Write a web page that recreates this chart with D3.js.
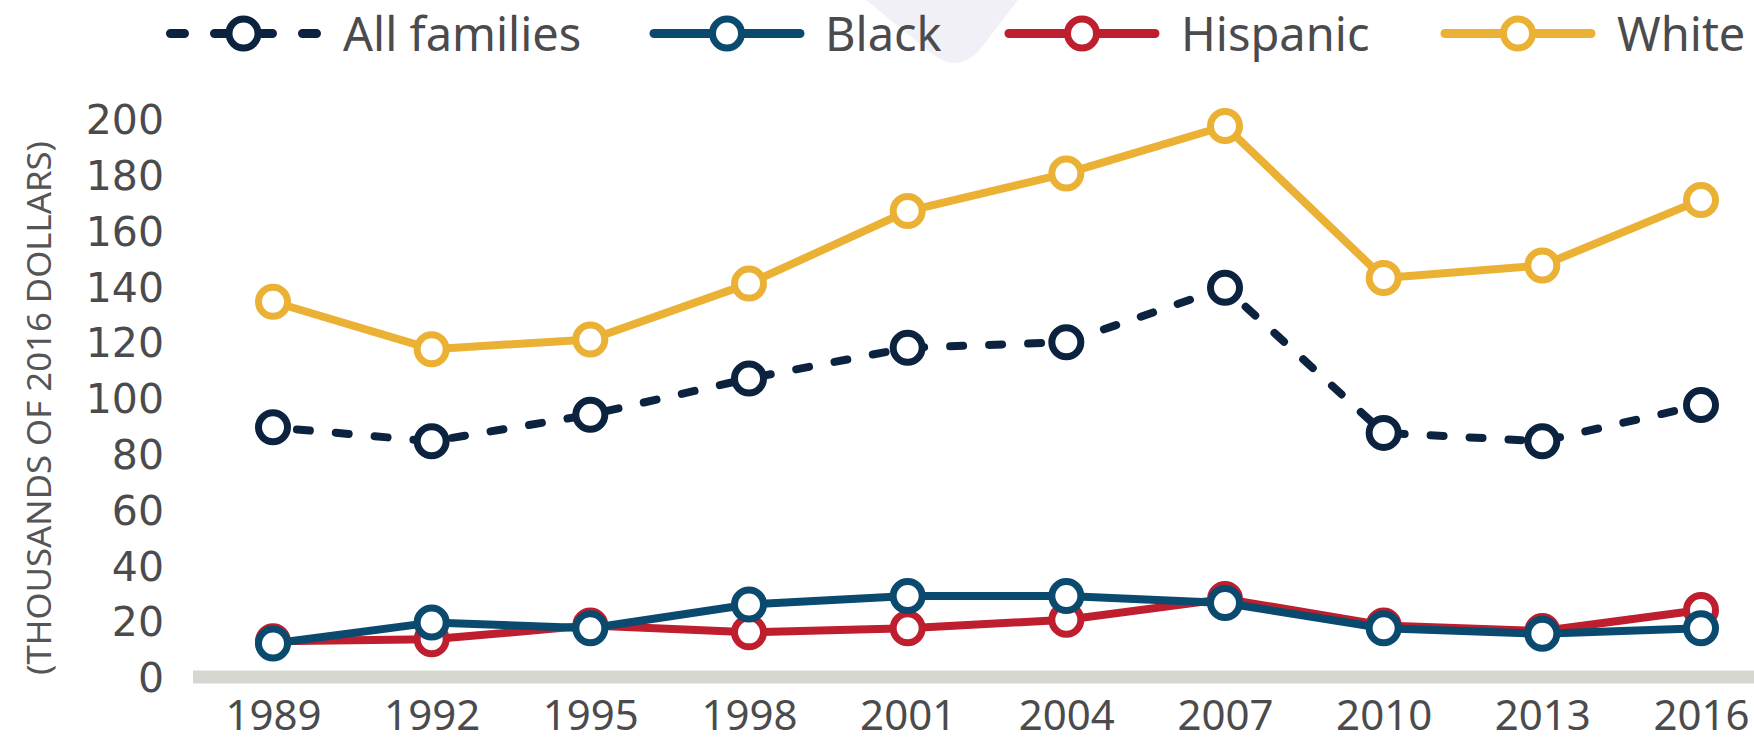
<!DOCTYPE html>
<html><head><meta charset="utf-8">
<script src="https://cdn.jsdelivr.net/npm/d3@7/dist/d3.min.js"></script>
<style>
html,body{margin:0;padding:0;background:#fff;}
svg{display:block;}
</style></head>
<body>
<svg id="chart" width="1754" height="743"></svg>
<script>
const years = [1989, 1992, 1995, 1998, 2001, 2004, 2007, 2010, 2013, 2016];
const allFamilies = [89.5, 84.5, 94, 107, 118, 120, 139.5, 87.5, 84.5, 97.5];
const black = [12, 19.5, 17.5, 26, 29, 29, 26.5, 17.5, 15.5, 17.5];
const hispanic = [12.8, 13.5, 18.5, 16, 17.5, 20.5, 28, 18.5, 16.5, 24];
const white = [134.5, 117.5, 121, 141, 167, 180.5, 197.5, 143, 147.5, 171];
const yTicks = [0, 20, 40, 60, 80, 100, 120, 140, 160, 180, 200];
const seriesNames = ["All families", "Black", "Hispanic", "White"];
const yTitle = "(THOUSANDS OF 2016 DOLLARS)";

const colors = {"All families": "#0c2340", "Black": "#0b4a6f", "Hispanic": "#be1e2d", "White": "#ebb134"};
const seriesData = {"All families": allFamilies, "Black": black, "Hispanic": hispanic, "White": white};
const drawOrder = ["White", "All families", "Hispanic", "Black"];
const textColor = "#4b4b4d";

const svg = d3.select("#chart");
const x = d3.scaleLinear().domain([1989, 2016]).range([273, 1701]);
const y = d3.scaleLinear().domain([0, 200]).range([677, 119]);

// background decoration
svg.append("path")
  .attr("d", "M866,0 L930,52 Q955,74 978,52 L1018,0 Z")
  .attr("fill", "#f1f0f7");

// baseline bar
svg.append("rect")
  .attr("x", 193).attr("width", 1754 - 193)
  .attr("y", y(0) - 6.5).attr("height", 13)
  .attr("fill", "#d7d7d1");

// y axis
const yAxis = d3.axisLeft(y).tickValues(yTicks).tickSize(0).tickPadding(0);
const gy = svg.append("g").attr("transform", "translate(164,0)").call(yAxis);
gy.select(".domain").remove();
gy.selectAll("text")
  .attr("font-family", "DejaVu Sans")
  .attr("font-size", 41)
  .attr("fill", textColor)
  .attr("dy", "0.36em");

// x axis
const xAxis = d3.axisBottom(x).tickValues(years).tickFormat(d3.format("d")).tickSize(0).tickPadding(0);
const gx = svg.append("g").attr("transform", "translate(0,730)").call(xAxis);
gx.select(".domain").remove();
gx.selectAll("text")
  .attr("font-family", "Noto Sans")
  .attr("font-size", 42)
  .attr("fill", textColor)
  .attr("dy", 0)
  .attr("y", 0);

// y title
svg.append("text")
  .attr("transform", "translate(51,408) rotate(-90)")
  .attr("text-anchor", "middle")
  .attr("font-family", "Noto Sans")
  .attr("font-size", 33)
  .attr("textLength", 534)
  .attr("lengthAdjust", "spacingAndGlyphs")
  .attr("fill", "#555557")
  .text(yTitle);

// lines
const line = d3.line().x((d, i) => x(years[i])).y(d => y(d));
drawOrder.forEach(name => {
  const g = svg.append("g");
  const vals = seriesData[name];
  g.append("path")
    .datum(vals)
    .attr("d", line)
    .attr("fill", "none")
    .attr("stroke", colors[name])
    .attr("stroke-width", 8)
    .attr("stroke-linejoin", "round")
    .attr("stroke-linecap", "round")
    .attr("stroke-dasharray", name === "All families" ? "13,26" : null)
    .attr("stroke-dashoffset", name === "All families" ? -24 : null);
  g.selectAll("circle").data(vals).join("circle")
    .attr("cx", (d, i) => x(years[i]))
    .attr("cy", d => y(d))
    .attr("r", 14.5)
    .attr("fill", "#fff")
    .attr("stroke", colors[name])
    .attr("stroke-width", 7);
});

// legend
const legendItems = [
  {name: "All families", x0: 170.5, x1: 316.5, cx: 243.5, tx: 343},
  {name: "Black", x0: 654, x1: 800, cx: 727, tx: 825},
  {name: "Hispanic", x0: 1009, x1: 1155, cx: 1082, tx: 1181},
  {name: "White", x0: 1445, x1: 1591, cx: 1518, tx: 1617}
];
const lg = svg.append("g");
legendItems.forEach(it => {
  lg.append("line")
    .attr("x1", it.x0).attr("x2", it.x1)
    .attr("y1", 33.5).attr("y2", 33.5)
    .attr("stroke", colors[it.name])
    .attr("stroke-width", 9)
    .attr("stroke-linecap", "round")
    .attr("stroke-dasharray", it.name === "All families" ? "14,30" : null);
  lg.append("circle")
    .attr("cx", it.cx).attr("cy", 33.5).attr("r", 14.5)
    .attr("fill", "#fff").attr("stroke", colors[it.name]).attr("stroke-width", 7);
  lg.append("text")
    .attr("x", it.tx).attr("y", 51)
    .attr("font-family", "Noto Sans")
    .attr("font-size", 47)
    .attr("fill", textColor)
    .text(it.name);
});
</script>
</body></html>
